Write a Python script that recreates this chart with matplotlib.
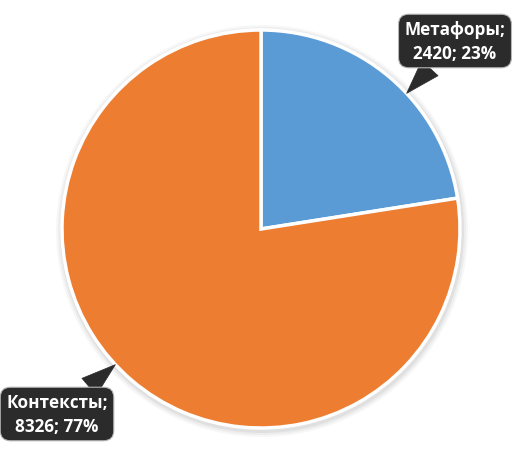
import numpy as np
import matplotlib
matplotlib.use("Agg")
import matplotlib.pyplot as plt

labels = ["Метафоры", "Контексты"]
values = [2420, 8326]
percents = ["23%", "77%"]
colors = ["#5B9BD5", "#ED7D31"]

W, H = 516, 452
fig = plt.figure(figsize=(W / 100, H / 100), dpi=100)
ax = fig.add_axes([0, 0, 1, 1])

cx, cy, R = 261, 222, 199

# soft shadow
for i, a in enumerate([0.05, 0.04, 0.03]):
    ax.add_patch(plt.Circle((cx + 1, cy - 2), R + 3 + 2 * i, color="k", alpha=a, lw=0, zorder=0))

wedges, _ = ax.pie(values, colors=colors, startangle=90, counterclock=False,
                   center=(cx, cy), radius=R, frame=True,
                   wedgeprops=dict(edgecolor="white", linewidth=2.5))
ax.set_xlim(0, W)
ax.set_ylim(0, H)
ax.set_aspect("equal")
ax.axis("off")

text_pos = [(455, 410), (57, 37)]
tip_shift = -6.5  # degrees
for w, lab, v, p, tp in zip(wedges, labels, values, percents, text_pos):
    mid = np.deg2rad((w.theta1 + w.theta2) / 2 + tip_shift)
    xy = (cx + R * np.cos(mid), cy + R * np.sin(mid))
    ax.annotate(f"{lab};\n{v}; {p}", xy=xy, xytext=tp, ha="center", va="center",
                fontsize=12.3, fontweight="bold", color="white", family="Open Sans",
                linespacing=1.4, zorder=5,
                bbox=dict(boxstyle="round,pad=0.35,rounding_size=0.6", fc="#2b2b2b", ec="#b5b5b5", lw=0.8),
                arrowprops=dict(arrowstyle="wedge,tail_width=1.3,shrink_factor=0.5",
                                fc="#2b2b2b", ec="#2b2b2b", lw=0.5, shrinkA=0, shrinkB=0))

fig.savefig("out.png", dpi=100)
